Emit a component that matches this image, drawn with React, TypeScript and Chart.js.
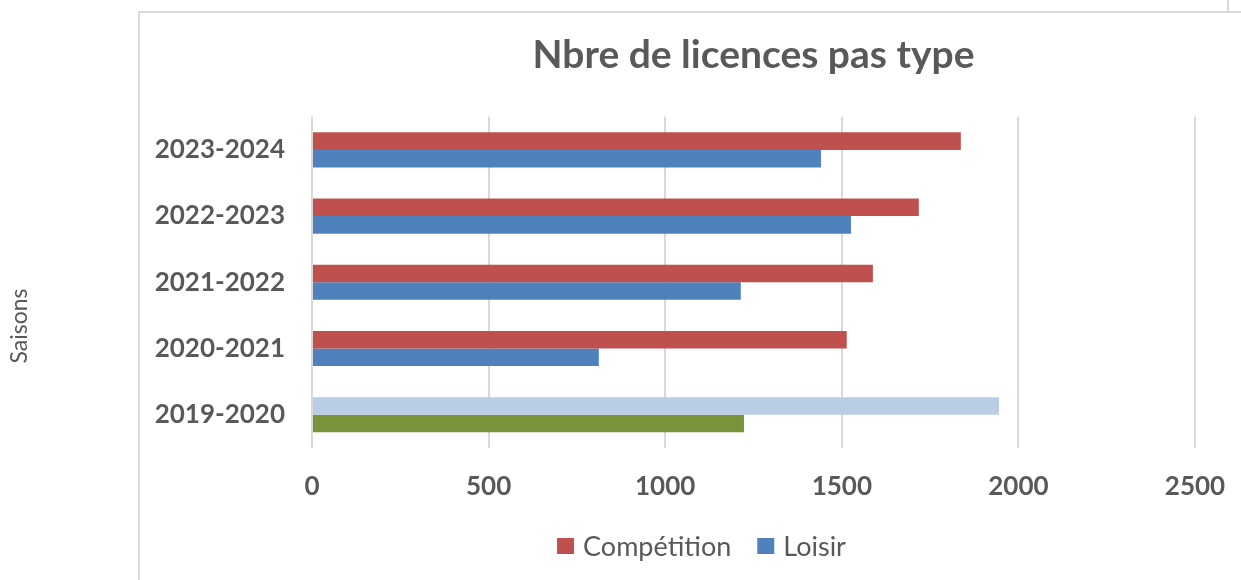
import React, { useEffect, useRef } from "react";
import { Chart, registerables } from "chart.js";

Chart.register(...registerables);

// ---- data ----
const seasons = ["2023-2024", "2022-2023", "2021-2022", "2020-2021", "2019-2020"];
const competition = [1837, 1718, 1588, 1514, 1945];
const loisir = [1441, 1526, 1214, 812, 1223];
const competitionColors = ["#C0504D", "#C0504D", "#C0504D", "#C0504D", "#B9CDE5"];
const loisirColors = ["#4F81BD", "#4F81BD", "#4F81BD", "#4F81BD", "#77933C"];
const seriesNames = ["Compétition", "Loisir"];
const legendColors = ["#C0504D", "#4F81BD"];
const xTickValues = [0, 500, 1000, 1500, 2000, 2500];
const chartTitle = "Nbre de licences pas type";
const axisTitle = "Saisons";

const TEXT = "#595959";
const GRID = "#d9d9d9";
const FONT = "Lato";

const decor = {
  id: "decor",
  beforeDraw(chart: any) {
    const ctx = chart.ctx;
    ctx.save();
    ctx.strokeStyle = GRID;
    ctx.lineWidth = 2;
    ctx.beginPath();
    ctx.moveTo(139, 580);
    ctx.lineTo(139, 12);
    ctx.lineTo(1241, 12);
    ctx.moveTo(1228, 0);
    ctx.lineTo(1228, 12);
    ctx.stroke();
    ctx.restore();
  },
  afterDraw(chart: any) {
    const ctx = chart.ctx;
    // y axis title
    ctx.save();
    ctx.fillStyle = TEXT;
    ctx.font = `23px ${FONT}`;
    ctx.translate(20, 326);
    ctx.rotate(-Math.PI / 2);
    ctx.textAlign = "center";
    ctx.textBaseline = "middle";
    ctx.fillText(axisTitle, 0, 0);
    ctx.restore();

    // legend
    ctx.save();
    ctx.font = `27px ${FONT}`;
    ctx.fillStyle = TEXT;
    ctx.textBaseline = "middle";
    ctx.textAlign = "left";
    const box = 17;
    const gap = 9;
    const spacing = 26;
    const widths = seriesNames.map((n) => ctx.measureText(n).width);
    const total =
      widths.reduce((a, w) => a + box + gap + w, 0) + spacing * (seriesNames.length - 1);
    let x = 701.5 - total / 2;
    const y = 546;
    seriesNames.forEach((n, i) => {
      ctx.fillStyle = legendColors[i];
      ctx.fillRect(x, y - 8, box, 16);
      ctx.fillStyle = TEXT;
      ctx.fillText(n, x + box + gap, y + 1);
      x += box + gap + widths[i] + spacing;
    });
    ctx.restore();
  },
};

export default function App() {
  const ref = useRef<HTMLCanvasElement | null>(null);

  useEffect(() => {
    let chart: Chart | null = null;
    let cancelled = false;
    const make = () => {
      if (cancelled || !ref.current) return;
      chart = new Chart(ref.current, {
        type: "bar",
        data: {
          labels: seasons,
          datasets: [
            {
              label: seriesNames[0],
              data: competition,
              backgroundColor: competitionColors,
              categoryPercentage: 0.53,
              barPercentage: 1,
            },
            {
              label: seriesNames[1],
              data: loisir,
              backgroundColor: loisirColors,
              categoryPercentage: 0.53,
              barPercentage: 1,
            },
          ],
        },
        options: {
          indexAxis: "y",
          responsive: false,
          animation: false,
          layout: { padding: { left: 0, right: 46, top: 0, bottom: 55 } },
          plugins: {
            legend: { display: false },
            tooltip: { enabled: false },
            title: {
              display: true,
              text: chartTitle,
              fullSize: false,
              color: TEXT,
              font: { family: FONT, size: 39, weight: "bold" },
              padding: { top: 32, bottom: 38 },
            },
          },
          scales: {
            x: {
              min: 0,
              max: 2500,
              afterBuildTicks: (scale: any) => {
                scale.ticks = xTickValues.map((v) => ({ value: v }));
              },
              afterFit: (scale: any) => {
                scale.paddingRight = 0;
                scale.paddingLeft = 0;
              },
              grid: { color: GRID, lineWidth: 2, drawTicks: false },
              border: { display: false },
              ticks: {
                color: TEXT,
                padding: 23,
                font: { family: FONT, size: 26, weight: "bold" },
                callback: (v: any) => String(v),
              },
            },
            y: {
              grid: { display: false, drawTicks: false },
              border: { display: false },
              afterFit: (scale: any) => {
                scale.width = 312;
              },
              ticks: {
                color: TEXT,
                padding: 27,
                font: { family: FONT, size: 26, weight: "bold" },
              },
            },
          },
        },
        plugins: [decor],
      });
    };
    const fonts = (document as any).fonts;
    if (fonts && fonts.load) {
      Promise.all([
        fonts.load(`bold 26px ${FONT}`),
        fonts.load(`26px ${FONT}`),
        fonts.load(`bold 39px ${FONT}`),
      ])
        .catch(() => {})
        .then(make);
    } else {
      make();
    }
    return () => {
      cancelled = true;
      if (chart) chart.destroy();
    };
  }, []);

  return (
    <div
      style={{
        position: "fixed",
        left: 0,
        top: 0,
        width: 1241,
        height: 580,
        background: "#ffffff",
      }}
    >
      <canvas ref={ref} width={1241} height={580} style={{ display: "block" }} />
    </div>
  );
}
